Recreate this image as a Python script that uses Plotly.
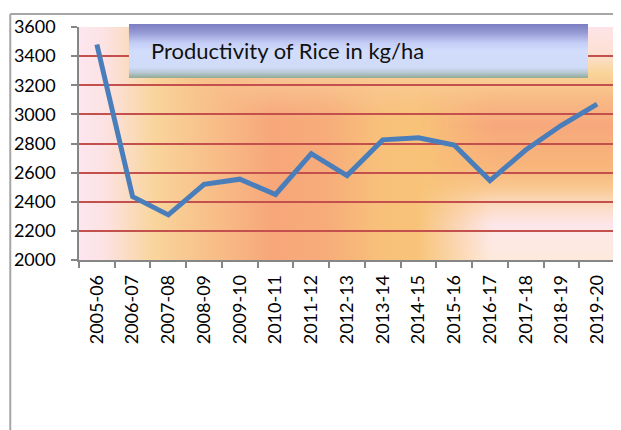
import base64
import plotly.graph_objects as go

# ---- data ----
years = ["2005-06", "2006-07", "2007-08", "2008-09", "2009-10", "2010-11",
         "2011-12", "2012-13", "2013-14", "2014-15", "2015-16", "2016-17",
         "2017-18", "2018-19", "2019-20"]
productivity = [3480, 2435, 2310, 2520, 2555, 2450, 2730, 2580, 2825, 2840,
                2790, 2545, 2755, 2925, 3070]
y_ticks = [2000, 2200, 2400, 2600, 2800, 3000, 3200, 3400, 3600]
title_text = "Productivity of Rice in kg/ha"

# ---- geometry (screen pixels; page body has an 8px margin) ----
OFF = 8
SW, SH = 621, 430
W, H = SW - OFF, SH - OFF
PLOT_L, PLOT_R, PLOT_T, PLOT_B = 77, 615, 27, 260
L = PLOT_L - OFF
T = PLOT_T - OFF
R = W - (PLOT_R - OFF)
B = H - (PLOT_B - OFF)
PW, PH = PLOT_R - PLOT_L, PLOT_B - PLOT_T


def px(xs):
    return (xs - PLOT_L) / PW


def py(ys):
    return (PLOT_B - ys) / PH


def svg_uri(svg):
    return "data:image/svg+xml;base64," + base64.b64encode(svg.encode()).decode()


bg_svg = f"""<svg xmlns="http://www.w3.org/2000/svg" width="{PW}" height="{PH}" viewBox="0 0 {PW} {PH}" preserveAspectRatio="none">
<defs>
<linearGradient id="h" x1="0" y1="0" x2="1" y2="0">
<stop offset="0" stop-color="#fde6f0"/>
<stop offset="0.05" stop-color="#fce2e2"/>
<stop offset="0.14" stop-color="#f9d59c"/>
<stop offset="0.24" stop-color="#f8c08a"/>
<stop offset="0.36" stop-color="#f7a77a"/>
<stop offset="0.46" stop-color="#f7ac7a"/>
<stop offset="0.56" stop-color="#f8c07a"/>
<stop offset="0.65" stop-color="#f8c478"/>
<stop offset="1" stop-color="#f8b87a"/>
</linearGradient>
<linearGradient id="v" x1="0" y1="0" x2="0" y2="1">
<stop offset="0" stop-color="#fde4e8"/>
<stop offset="0.12" stop-color="#fde0d0"/>
<stop offset="0.2" stop-color="#f9d498"/>
<stop offset="0.3" stop-color="#f8bc86"/>
<stop offset="0.42" stop-color="#f7a87c"/>
<stop offset="0.6" stop-color="#f8b67a"/>
<stop offset="0.69" stop-color="#f9c890"/>
<stop offset="0.76" stop-color="#fcdac0"/>
<stop offset="0.85" stop-color="#fde6ea"/>
<stop offset="1" stop-color="#fdeadc"/>
</linearGradient>
<linearGradient id="mh" x1="0" y1="0" x2="1" y2="0">
<stop offset="0" stop-color="#000"/>
<stop offset="0.63" stop-color="#000"/>
<stop offset="0.77" stop-color="#fff"/>
<stop offset="1" stop-color="#fff"/>
</linearGradient>
<mask id="m"><rect width="{PW}" height="{PH}" fill="url(#mh)"/></mask>
<linearGradient id="t" x1="0" y1="0" x2="0" y2="1">
<stop offset="0" stop-color="#fbdcc0" stop-opacity="0.9"/>
<stop offset="0.22" stop-color="#f9cc98" stop-opacity="0.8"/>
<stop offset="0.4" stop-color="#f9c898" stop-opacity="0"/>
<stop offset="1" stop-color="#f9c898" stop-opacity="0"/>
</linearGradient>
<linearGradient id="mt" x1="0" y1="0" x2="1" y2="0">
<stop offset="0" stop-color="#000"/>
<stop offset="0.2" stop-color="#000"/>
<stop offset="0.35" stop-color="#fff"/>
<stop offset="1" stop-color="#fff"/>
</linearGradient>
<mask id="m2"><rect width="{PW}" height="{PH}" fill="url(#mt)"/></mask>
</defs>
<rect width="{PW}" height="{PH}" fill="url(#h)"/>
<rect width="{PW}" height="{PH}" fill="url(#t)" mask="url(#m2)"/>
<rect width="{PW}" height="{PH}" fill="url(#v)" mask="url(#m)"/>
</svg>"""

box_x0, box_x1, box_y0, box_y1 = 127, 588, 24, 78
bw, bh = box_x1 - box_x0, box_y1 - box_y0
box_svg = f"""<svg xmlns="http://www.w3.org/2000/svg" width="{bw}" height="{bh}" viewBox="0 0 {bw} {bh}" preserveAspectRatio="none">
<defs>
<linearGradient id="g" x1="0" y1="0" x2="0" y2="1">
<stop offset="0" stop-color="#7c7ec2"/>
<stop offset="0.15" stop-color="#9398d2"/>
<stop offset="0.35" stop-color="#c4cdf6"/>
<stop offset="0.5" stop-color="#d2ddfc"/>
<stop offset="0.8" stop-color="#d0dbf8"/>
<stop offset="0.9" stop-color="#b8c8d4"/>
<stop offset="1" stop-color="#92aa94"/>
</linearGradient>
</defs>
<rect width="{bw}" height="{bh}" fill="url(#g)"/>
</svg>"""

fig = go.Figure()
fig.add_trace(go.Scatter(
    x=years, y=productivity, mode="lines",
    line=dict(color="#4a7ebb", width=5),
    hoverinfo="skip", showlegend=False,
))

axis_font = dict(family="Lato, 'Open Sans', sans-serif", size=18, color="#000000")

fig.update_layout(
    width=W, height=H,
    margin=dict(l=L, r=R, t=T, b=B, pad=0),
    paper_bgcolor="#ffffff",
    plot_bgcolor="rgba(0,0,0,0)",
    showlegend=False,
    xaxis=dict(
        type="category", range=[-0.5, len(years) - 0.5],
        tickson="boundaries", ticks="outside", ticklen=6, tickwidth=1.5,
        tickcolor="#868686", showline=True, linecolor="#868686", linewidth=1.5,
        showgrid=False, tickangle=-90, tickfont=axis_font,
        ticklabelstandoff=6, zeroline=False, fixedrange=True,
    ),
    yaxis=dict(
        range=[y_ticks[0], y_ticks[-1]], tickvals=y_ticks,
        ticks="outside", ticklen=6, tickwidth=1.5, tickcolor="#868686",
        showline=True, linecolor="#868686", linewidth=1.5,
        showgrid=True, gridcolor="#c4504e", gridwidth=1.8,
        tickfont=axis_font, ticklabelstandoff=12, zeroline=False,
        fixedrange=True,
    ),
    images=[
        dict(source=svg_uri(bg_svg), xref="paper", yref="paper",
             x=0, y=1, sizex=1, sizey=1, sizing="stretch",
             xanchor="left", yanchor="top", layer="below"),
        dict(source=svg_uri(box_svg), xref="paper", yref="paper",
             x=px(box_x0), y=py(box_y0), sizex=px(box_x1) - px(box_x0),
             sizey=py(box_y0) - py(box_y1), sizing="stretch",
             xanchor="left", yanchor="top", layer="above"),
    ],
    annotations=[
        dict(text=title_text, xref="paper", yref="paper",
             x=px(147), y=py(51), xanchor="left", yanchor="middle",
             showarrow=False,
             font=dict(family="Lato, 'Open Sans', sans-serif", size=22,
                       color="#111111")),
    ],
    shapes=[
        dict(type="line", xref="paper", yref="paper",
             x0=px(8), y0=py(14), x1=px(SW + 2), y1=py(14),
             line=dict(color="#a6a6a6", width=2)),
        dict(type="line", xref="paper", yref="paper",
             x0=px(8), y0=py(14), x1=px(8), y1=py(SH + 2),
             line=dict(color="#a6a6a6", width=2)),
    ],
)

fig.write_html("out.html")
